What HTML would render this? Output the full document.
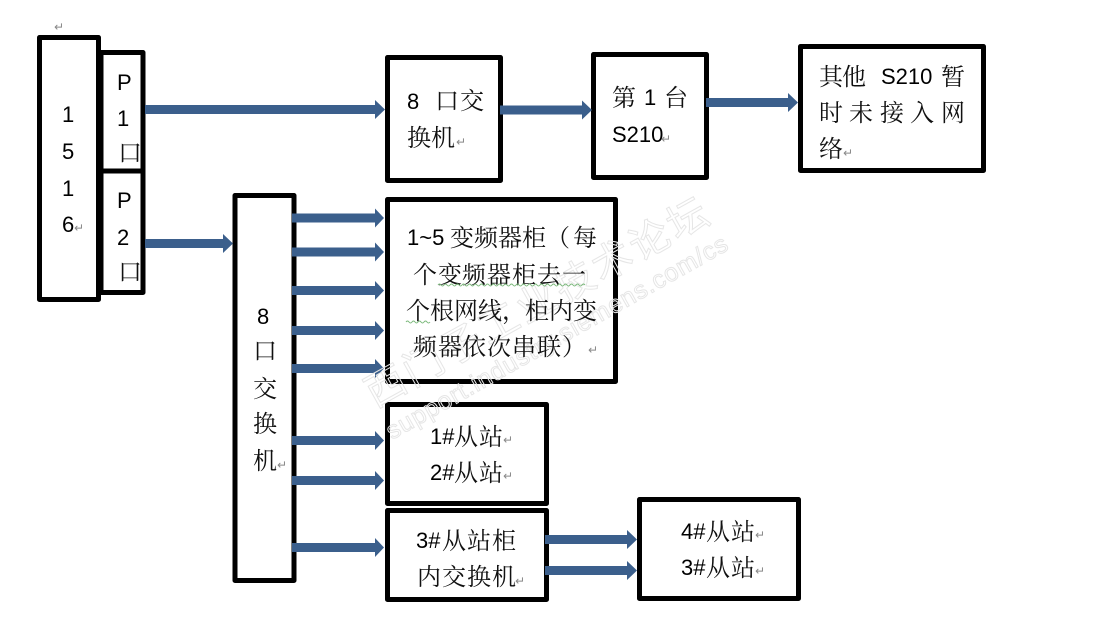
<!DOCTYPE html>
<html><head><meta charset="utf-8">
<style>
html,body{margin:0;padding:0;background:#fff;width:1094px;height:639px;overflow:hidden}
svg{display:block}
.t{font-family:"Liberation Sans","Noto Serif CJK SC",serif;font-size:24px;fill:#111;transform:translate(-1px,1px)}
.l{font-family:"Liberation Sans",sans-serif;font-size:22px;fill:#000}
.r{font-family:"DejaVu Sans",sans-serif;font-size:12px;fill:#888}
.w{font-family:"Liberation Sans","Noto Sans CJK SC",sans-serif;fill:none;stroke:#e6e6e6;stroke-width:1}
rect{fill:#fff;stroke:#000;stroke-width:5;stroke-linejoin:round}
.a{fill:#3b5f8c}
</style></head><body>
<svg width="1094" height="639" viewBox="0 0 1094 639" xmlns="http://www.w3.org/2000/svg">
<rect x="101" y="52.500" width="42" height="119"/>
<rect x="101" y="171" width="42" height="121.500"/>
<rect x="39.500" y="37.500" width="59" height="262"/>
<rect x="235" y="195.500" width="59" height="385"/>
<rect x="387.500" y="57.500" width="113" height="123"/>
<rect x="593.500" y="54.500" width="113" height="123"/>
<rect x="800.500" y="46.500" width="183" height="124"/>
<rect x="387.500" y="199.500" width="228" height="182"/>
<rect x="387.500" y="404.500" width="159" height="99"/>
<rect x="387.500" y="510.500" width="159" height="89"/>
<rect x="639.500" y="499.500" width="159" height="99"/>

<g class="a">
<polygon points="145,105 375,105 375,100 385,109.500 375,119 375,114 145,114"/>
<polygon points="145,239 223,239 223,234 233,243.500 223,253 223,248 145,248"/>
<polygon points="292,213.500 375,213.500 375,208.500 384,218 375,227.500 375,222.500 292,222.500"/>
<polygon points="292,247.500 375,247.500 375,242.500 384,252 375,261.500 375,256.500 292,256.500"/>
<polygon points="292,286 375,286 375,281 384,290.500 375,300 375,295 292,295"/>
<polygon points="292,326 375,326 375,321 384,330.500 375,340 375,335 292,335"/>
<polygon points="292,364 375,364 375,359 384,368.500 375,378 375,373 292,373"/>
<polygon points="292,436 375,436 375,431 384,440.500 375,450 375,445 292,445"/>
<polygon points="292,476 375,476 375,471 384,480.500 375,490 375,485 292,485"/>
<polygon points="292,543 375,543 375,538 384,547.500 375,557 375,552 292,552"/>
<polygon points="500,105.500 582,105.500 582,100.500 592,110 582,119.500 582,114.500 500,114.500"/>
<polygon points="706,98 788,98 788,93 798,102.500 788,112 788,107 706,107"/>
<polygon points="545,535 627,535 627,530 637,539.500 627,549 627,544 545,544"/>
<polygon points="545,566 627,566 627,561 637,570.500 627,580 627,575 545,575"/>
</g>

<g transform="translate(375,408) rotate(-29)">
<text class="w" font-size="40" x="0" y="0" textLength="385">西门子工业技术论坛</text>
</g>
<g transform="translate(392,440) rotate(-29.500)">
<text class="w" font-size="25" x="0" y="0" textLength="388">support.industry.siemens.com/cs</text>
</g>

<text class="l" x="62" y="122">1</text>
<text class="l" x="62" y="159">5</text>
<text class="l" x="62" y="196">1</text>
<text class="l" x="62" y="232">6</text>
<text class="r" x="74" y="232">↵</text>
<text class="r" x="54" y="31">↵</text>

<text class="l" x="117" y="90">P</text>
<text class="l" x="117" y="126">1</text>
<text class="t" x="119" y="160">口</text>
<text class="l" x="117" y="208">P</text>
<text class="l" x="117" y="245">2</text>
<text class="t" x="119" y="279">口</text>

<text class="l" x="257" y="324">8</text>
<text class="t" x="254" y="358">口</text>
<text class="t" x="254" y="396">交</text>
<text class="t" x="254" y="431">换</text>
<text class="t" x="254" y="468">机</text>
<text class="r" x="277" y="469">↵</text>

<text class="l" x="407" y="109">8</text>
<text class="t" x="436 461" y="108">口交</text>
<text class="t" x="408 432" y="145">换机</text>
<text class="r" x="456" y="146">↵</text>

<text class="t" x="613" y="105">第</text>
<text class="l" x="644" y="105">1</text>
<text class="t" x="665" y="105">台</text>
<text class="l" x="612" y="142">S210</text>
<text class="r" x="661" y="143">↵</text>

<text class="t" x="820 843" y="84">其他</text>
<text class="l" x="881" y="84">S210</text>
<text class="t" x="942" y="84">暂</text>
<text class="t" x="820 850 881 911 942" y="120">时未接入网</text>
<text class="t" x="820" y="156">络</text>
<text class="r" x="843" y="157">↵</text>

<text class="l" x="407" y="245">1~5</text>
<text class="t" x="451 475 499 523 547 574" y="245">变频器柜（每</text>
<text class="t" x="414 439 463 488 513 538 563" y="282">个变频器柜去一</text>
<text class="t" x="407 431 455 479 503 526 550 574" y="318">个根网线，柜内变</text>
<text class="t" x="414 439 463 488 513 538 563" y="354">频器依次串联）</text>
<text class="r" x="588" y="354">↵</text>
<path d="M438 285 q1.500 -2 3 0 t3 0 t3 0 t3 0 t3 0 t3 0 t3 0 t3 0 t3 0 t3 0 t3 0 t3 0 t3 0 t3 0 t3 0 t3 0 t3 0 t3 0 t3 0 t3 0 t3 0 t3 0 t3 0 t3 0 t3 0 t3 0 t3 0 t3 0 t3 0 t3 0 t3 0 t3 0 t3 0 t3 0 t3 0 t3 0 t3 0 t3 0 t3 0 t3 0 t3 0 t3 0 t3 0 t3 0 t3 0 t3 0 t3 0 t3 0 t3 0" fill="none" stroke="#7ab87a" stroke-width="1"/>
<path d="M406 322 q1.500 -2 3 0 t3 0 t3 0 t3 0 t3 0 t3 0 t3 0 t3 0" fill="none" stroke="#7ab87a" stroke-width="1"/>

<text class="l" x="430" y="444">1#</text>
<text class="t" x="455 480" y="444">从站</text>
<text class="r" x="503" y="444">↵</text>
<text class="l" x="430" y="480">2#</text>
<text class="t" x="455 480" y="480">从站</text>
<text class="r" x="503" y="480">↵</text>

<text class="l" x="416" y="548">3#</text>
<text class="t" x="443 468 493" y="548">从站柜</text>
<text class="t" x="418 443 468 493" y="584">内交换机</text>
<text class="r" x="515" y="585">↵</text>

<text class="l" x="681" y="539">4#</text>
<text class="t" x="707 732" y="539">从站</text>
<text class="r" x="755" y="539">↵</text>
<text class="l" x="681" y="575">3#</text>
<text class="t" x="707 732" y="575">从站</text>
<text class="r" x="755" y="575">↵</text>
</svg>
</body></html>
